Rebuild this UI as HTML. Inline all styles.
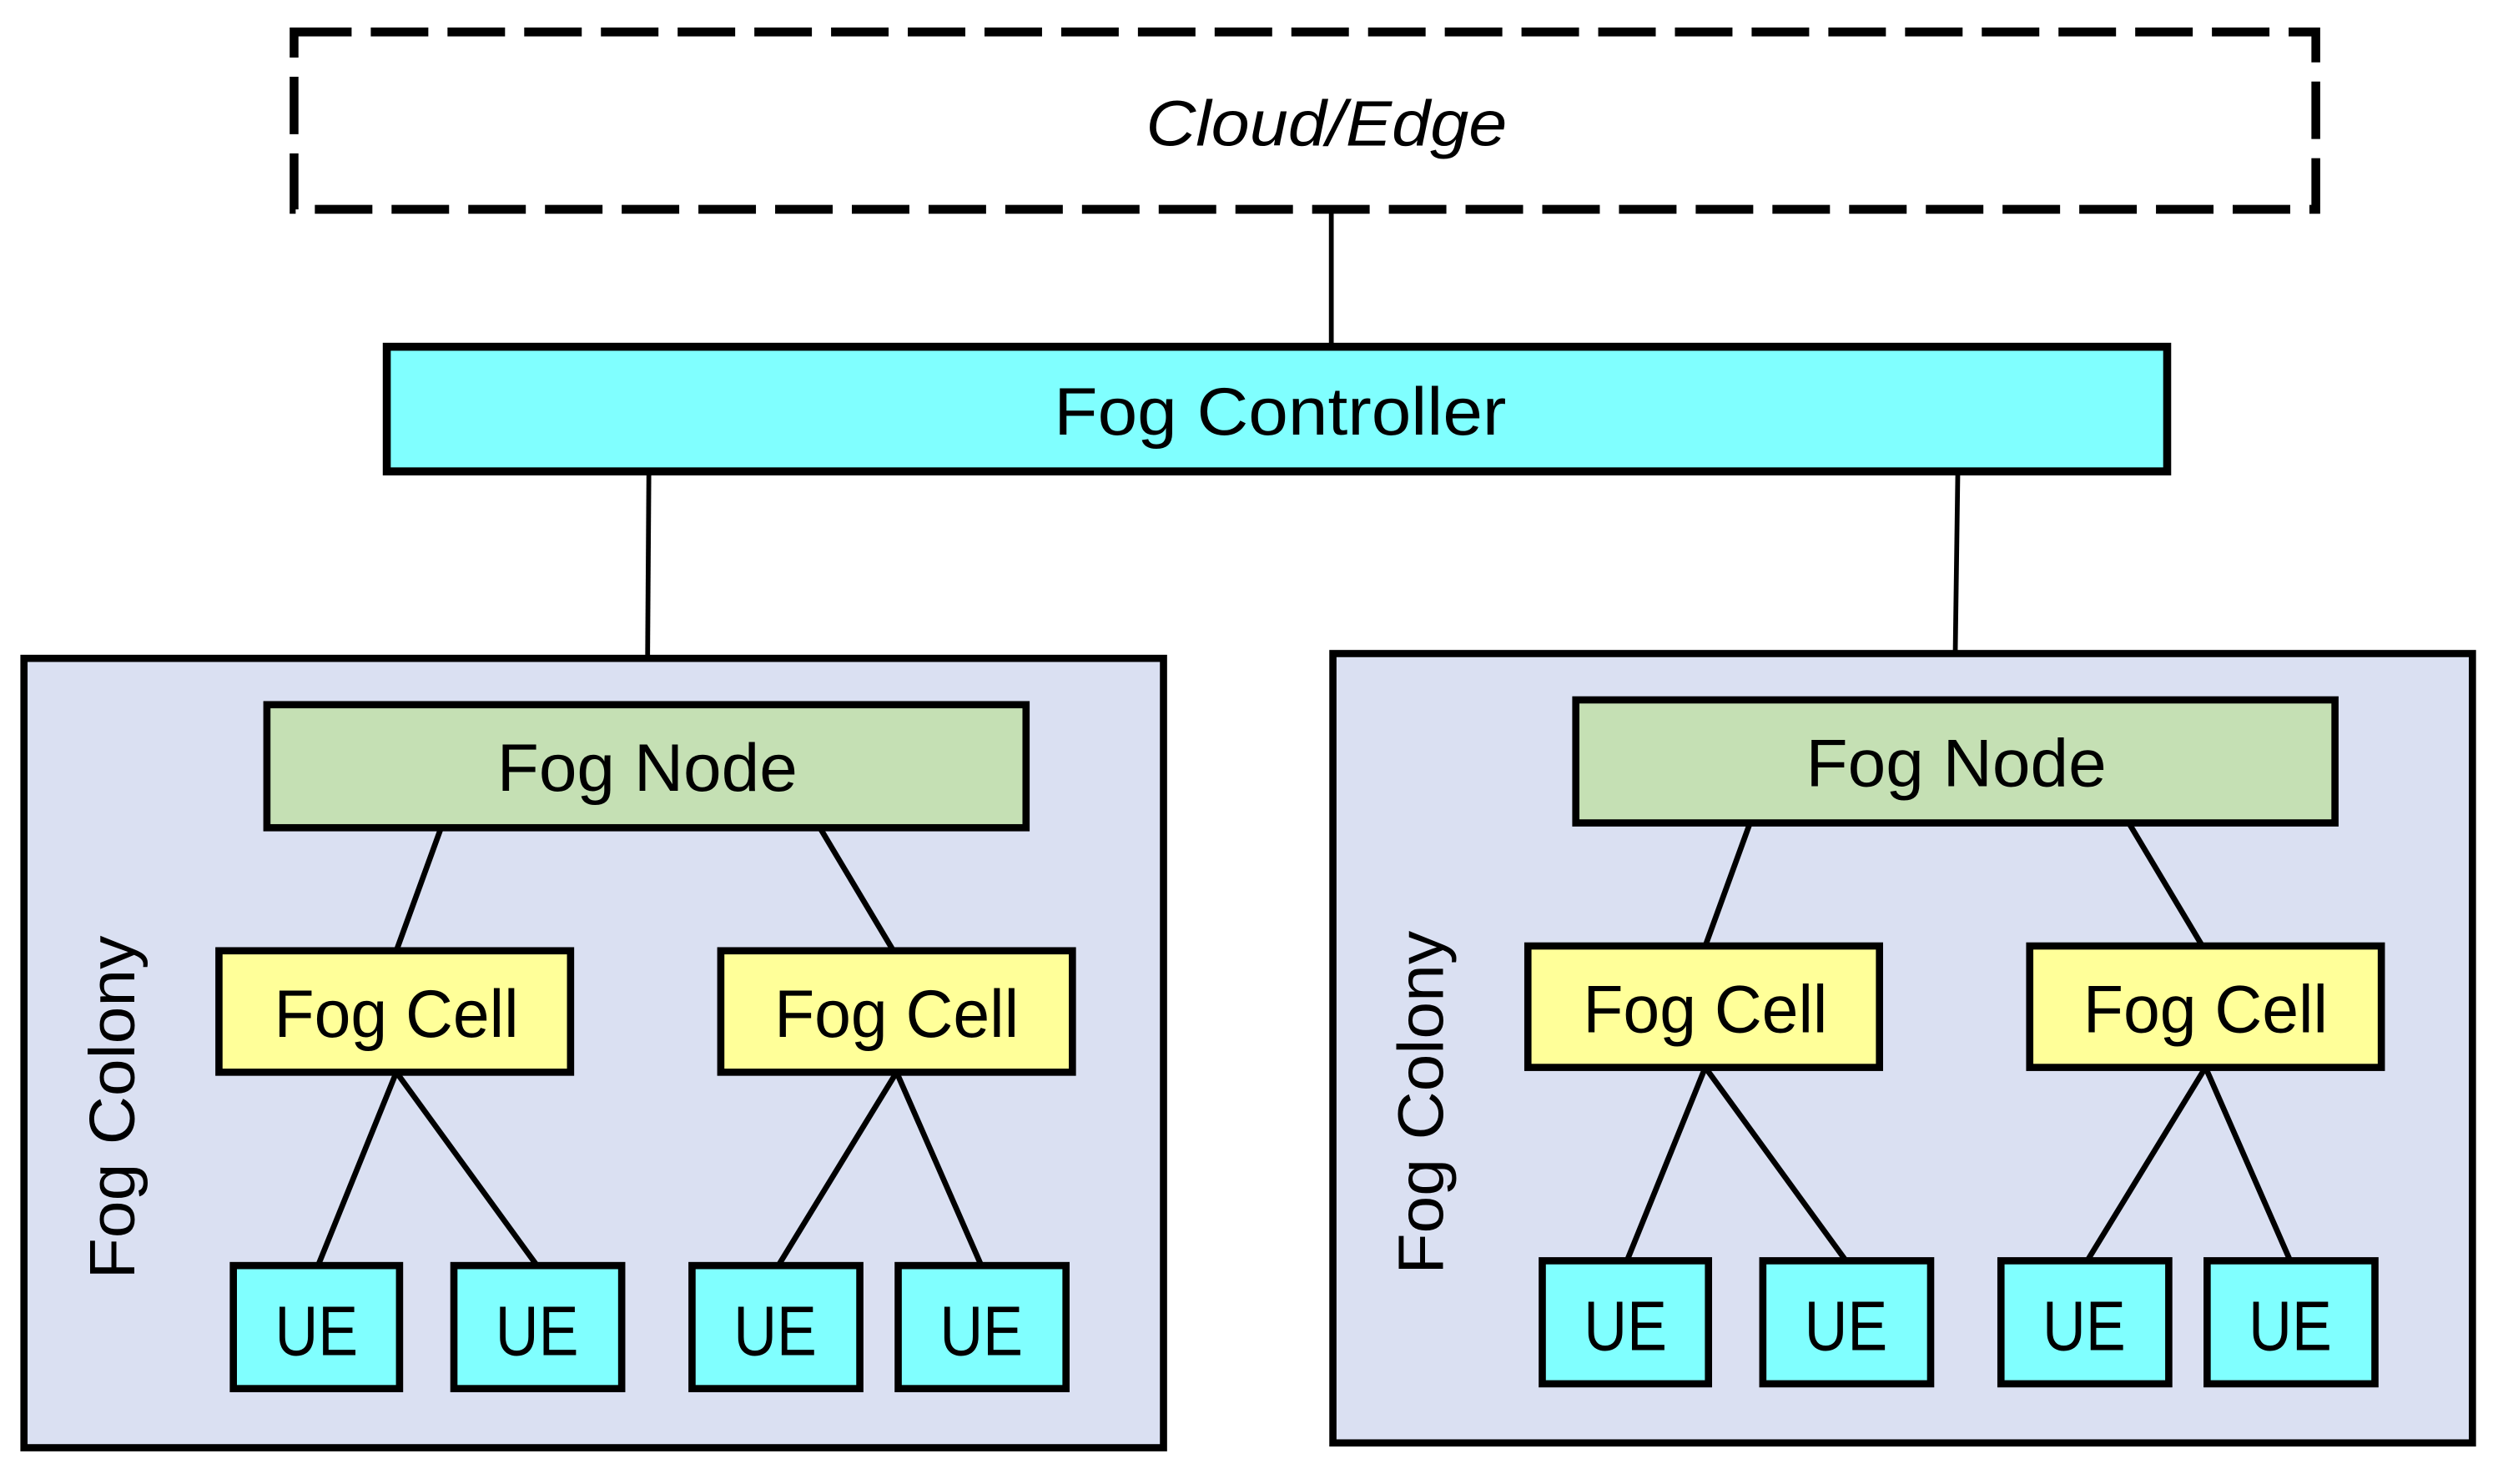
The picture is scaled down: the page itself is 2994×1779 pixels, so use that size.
<!DOCTYPE html>
<html><head><meta charset="utf-8"><style>
html,body{margin:0;padding:0;background:#fff;}
svg{display:block;}
text{font-family:"Liberation Sans",sans-serif;fill:#000;}
</style></head><body>
<svg width="2994" height="1779" viewBox="0 0 1563 928.7" preserveAspectRatio="none" xmlns="http://www.w3.org/2000/svg">
<rect x="184" y="20" width="1265" height="111" fill="none" stroke="#000" stroke-width="5.5" stroke-dasharray="36,12"/>
<text x="830" y="91" font-size="40" font-style="italic" text-anchor="middle" textLength="226" lengthAdjust="spacingAndGlyphs">Cloud/Edge</text>
<line x1="833" y1="131" x2="833" y2="217" stroke="#000" stroke-width="3"/>
<rect x="242" y="217" width="1114" height="78" fill="#80ffff" stroke="#000" stroke-width="5"/>
<text x="801" y="272" font-size="42" text-anchor="middle" textLength="283" lengthAdjust="spacingAndGlyphs">Fog Controller</text>
<line x1="406" y1="295" x2="405" y2="441" stroke="#000" stroke-width="3"/>
<line x1="1225" y1="295" x2="1223" y2="438" stroke="#000" stroke-width="3"/>

<g id="c1">
<rect x="15" y="412" width="713" height="494" fill="#dae0f2" stroke="#000" stroke-width="4.5"/>
<text transform="translate(84,693) rotate(-90)" font-size="40" text-anchor="middle" textLength="215" lengthAdjust="spacingAndGlyphs">Fog Colony</text>
<g stroke="#000" stroke-width="3.5">
<line x1="276" y1="518" x2="248" y2="595"/>
<line x1="513" y1="518" x2="559" y2="595"/>
<line x1="248" y1="671" x2="199" y2="792"/>
<line x1="248" y1="671" x2="336" y2="792"/>
<line x1="561" y1="671" x2="487" y2="792"/>
<line x1="561" y1="671" x2="614" y2="792"/>
</g>
<rect x="167" y="441" width="475" height="77" fill="#c5e0b4" stroke="#000" stroke-width="4.5"/>
<text x="405" y="495" font-size="42" text-anchor="middle" textLength="188" lengthAdjust="spacingAndGlyphs">Fog Node</text>
<rect x="137" y="595" width="220" height="76" fill="#ffff99" stroke="#000" stroke-width="4.5"/>
<text x="248" y="649" font-size="42" text-anchor="middle" textLength="153" lengthAdjust="spacingAndGlyphs">Fog Cell</text>
<rect x="451" y="595" width="220" height="76" fill="#ffff99" stroke="#000" stroke-width="4.5"/>
<text x="561" y="649" font-size="42" text-anchor="middle" textLength="153" lengthAdjust="spacingAndGlyphs">Fog Cell</text>
<g fill="#80ffff" stroke="#000" stroke-width="4.5">
<rect x="146" y="792" width="104" height="77"/>
<rect x="284" y="792" width="105" height="77"/>
<rect x="433" y="792" width="105" height="77"/>
<rect x="562" y="792" width="105" height="77"/>
</g>
<g font-size="44" text-anchor="middle">
<text x="198" y="848" textLength="52" lengthAdjust="spacingAndGlyphs">UE</text>
<text x="336" y="848" textLength="52" lengthAdjust="spacingAndGlyphs">UE</text>
<text x="485" y="848" textLength="52" lengthAdjust="spacingAndGlyphs">UE</text>
<text x="614" y="848" textLength="52" lengthAdjust="spacingAndGlyphs">UE</text>
</g>
</g>
<use href="#c1" transform="translate(819,-3)"/>
</svg>
</body></html>
